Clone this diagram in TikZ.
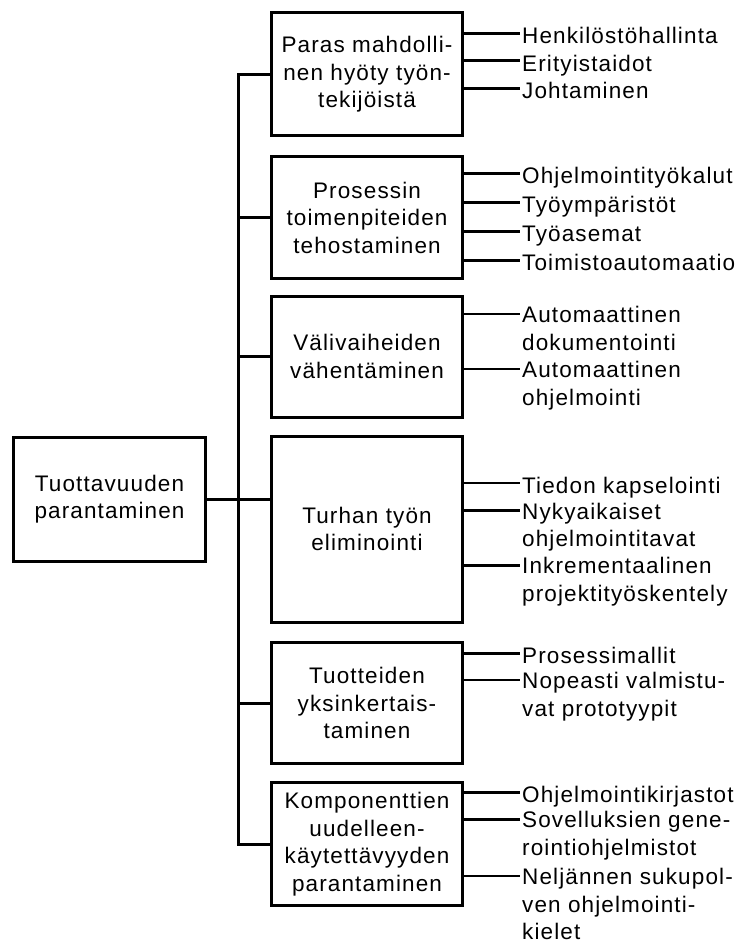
\documentclass[tikz,border=0pt]{standalone}
\usepackage{fontspec}
\setmainfont[LetterSpace=5]{Liberation Sans}
\newcommand\diafont{\fontsize{22.5pt}{27.5pt}\selectfont}
\tikzset{
  link/.style={line width=3pt},
  thinlink/.style={line width=2pt},
  box/.style={draw,line width=3pt,minimum width=191.5pt,inner sep=0pt,
    align=center,font=\diafont},
  leaf/.style={anchor=north west,inner sep=0pt,xshift=2pt,yshift=8pt,
    align=left,font=\diafont,execute at begin node=\rule{0pt}{18pt}}
}

\begin{document}
\begin{tikzpicture}[x=1pt,y=-1pt]
  \useasboundingbox (0,0) rectangle (743,944);
  \node[box,minimum width=192pt,minimum height=124pt] (root) at (109.5,499) {Tuottavuuden\\parantaminen};
  \node[box,minimum height=123pt] (p1) at (367,74.5) {Paras mahdolli-\\nen hyöty työn-\\tekijöistä};
  \node[box,minimum height=121pt] (p2) at (367,217.5) {Prosessin\\toimenpiteiden\\tehostaminen};
  \node[box,minimum height=121pt] (p3) at (367,356.5) {Välivaiheiden\\vähentäminen};
  \node[box,minimum height=186pt] (p4) at (367,529) {Turhan työn\\eliminointi};
  \node[box,minimum height=121.5pt] (p5) at (367,703) {Tuotteiden\\yksinkertais-\\taminen};
  \node[box,minimum height=122.5pt] (p6) at (367,844) {Komponenttien\\uudelleen-\\käytettävyyden\\parantaminen};
  \coordinate (trunk) at (238,0);

  % trunk and branches
  \draw[link] (p1.west) -- (p1.west -| trunk) -- (p6.west -| trunk) -- (p6.west);
  \draw[link] (root.east) -- (p4.west |- root.east);
  \draw[link] (p2.west -| trunk) -- (p2.west);
  \draw[link] (p3.west -| trunk) -- (p3.west);
  \draw[link] (p5.west -| trunk) -- (p5.west);

  % leaves
  \coordinate (c11) at (520,33.3);
  \coordinate (c12) at (520,61);
  \coordinate (c13) at (520,88.3);
  \node[leaf] (a11) at (c11) {Henkilöstöhallinta};
  \node[leaf] (a12) at (c12) {Erityistaidot};
  \node[leaf] (a13) at (c13) {Johtaminen};
  \draw[link] (p1.east |- c11) -- (c11);
  \draw[link] (p1.east |- c12) -- (c12);
  \draw[link] (p1.east |- c13) -- (c13);

  \coordinate (c21) at (520,173.7);
  \coordinate (c22) at (520,202.7);
  \coordinate (c23) at (520,231);
  \coordinate (c24) at (520,260);
  \node[leaf] (a21) at (c21) {Ohjelmointityökalut};
  \node[leaf] (a22) at (c22) {Työympäristöt};
  \node[leaf] (a23) at (c23) {Työasemat};
  \node[leaf] (a24) at (c24) {Toimistoautomaatio};
  \draw[link] (p2.east |- c21) -- (c21);
  \draw[link] (p2.east |- c22) -- (c22);
  \draw[link] (p2.east |- c23) -- (c23);
  \draw[link] (p2.east |- c24) -- (c24);

  \coordinate (c31) at (520,314);
  \coordinate (c32) at (520,369.3);
  \node[leaf] (a31) at (c31) {Automaattinen\\dokumentointi};
  \node[leaf] (a32) at (c32) {Automaattinen\\ohjelmointi};
  \draw[thinlink] (p3.east |- c31) -- (c31);
  \draw[thinlink] (p3.east |- c32) -- (c32);

  \coordinate (c41) at (520,483.3);
  \coordinate (c42) at (520,510.7);
  \coordinate (c43) at (520,565);
  \node[leaf] (a41) at (c41) {Tiedon kapselointi};
  \node[leaf] (a42) at (c42) {Nykyaikaiset\\ohjelmointitavat};
  \node[leaf] (a43) at (c43) {Inkrementaalinen\\projektityöskentely};
  \draw[thinlink] (p4.east |- c41) -- (c41);
  \draw[link] (p4.east |- c42) -- (c42);
  \draw[link] (p4.east |- c43) -- (c43);

  \coordinate (c51) at (520,653.3);
  \coordinate (c52) at (520,680);
  \node[leaf] (a51) at (c51) {Prosessimallit};
  \node[leaf] (a52) at (c52) {Nopeasti valmistu-\\vat prototyypit};
  \draw[link] (p5.east |- c51) -- (c51);
  \draw[thinlink] (p5.east |- c52) -- (c52);

  \coordinate (c61) at (520,792.7);
  \coordinate (c62) at (520,819.3);
  \coordinate (c63) at (520,876);
  \node[leaf] (a61) at (c61) {Ohjelmointikirjastot};
  \node[leaf] (a62) at (c62) {Sovelluksien gene-\\rointiohjelmistot};
  \node[leaf] (a63) at (c63) {Neljännen sukupol-\\ven ohjelmointi-\\kielet};
  \draw[link] (p6.east |- c61) -- (c61);
  \draw[link] (p6.east |- c62) -- (c62);
  \draw[thinlink] (p6.east |- c63) -- (c63);
\end{tikzpicture}
\end{document}
